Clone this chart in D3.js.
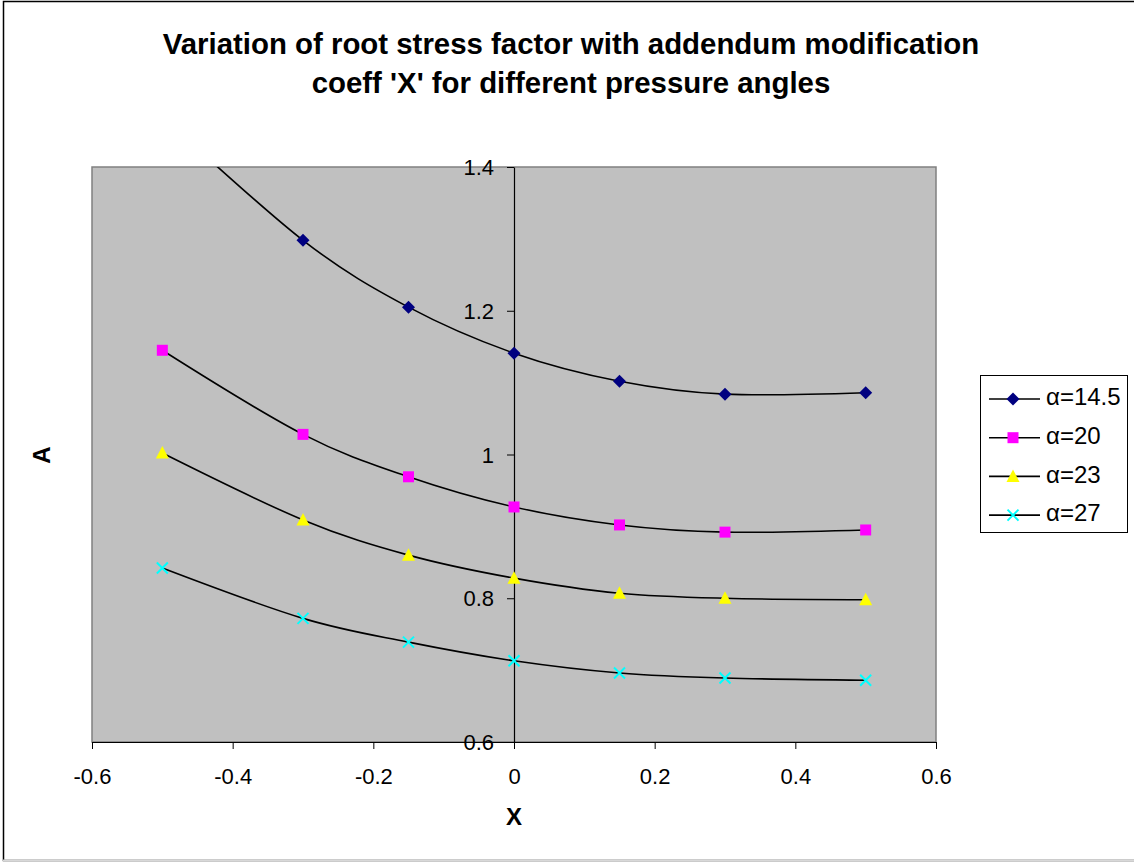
<!DOCTYPE html>
<html>
<head>
<meta charset="utf-8">
<script src="https://cdn.jsdelivr.net/npm/d3@7"></script>
<style>
  html, body { margin: 0; padding: 0; background: #fff; }
  svg { display: block; font-family: Arial, "Liberation Sans", sans-serif; }
</style>
</head>
<body>
<svg id="chart" width="1134" height="862"></svg>
<script>
// Addendum modification coefficient X
const xValues = [-0.5, -0.3, -0.15, 0, 0.15, 0.3, 0.5];

// Root stress factor A for each pressure angle
const a145 = [1.47, 1.298, 1.205, 1.141, 1.102, 1.084, 1.086];
const a20  = [1.145, 1.028, 0.969, 0.927, 0.902, 0.892, 0.895];
const a23  = [1.002, 0.909, 0.860, 0.828, 0.807, 0.800, 0.798];
const a27  = [0.842, 0.772, 0.739, 0.713, 0.696, 0.689, 0.686];

const seriesNames = ["α=14.5", "α=20", "α=23", "α=27"];
const seriesColors = ["#000080", "#FF00FF", "#FFFF00", "#00FFFF"];
const seriesSymbols = ["diamond", "square", "triangle", "cross"];

const xTicks = [-0.6, -0.4, -0.2, 0, 0.2, 0.4, 0.6];
const yTicks = [0.6, 0.8, 1, 1.2, 1.4];

const titleLines = [
  "Variation of root stress factor with addendum modification",
  "coeff 'X' for different pressure angles"
];

const series = [a145, a20, a23, a27].map((vals, i) => ({
  name: seriesNames[i],
  color: seriesColors[i],
  symbol: seriesSymbols[i],
  points: vals.map((v, j) => ({ x: xValues[j], y: v }))
}));

const svg = d3.select("#chart");
const plot = { left: 92, right: 936, top: 167, bottom: 742 };
const fontFamily = "Arial, 'Liberation Sans', sans-serif";

const x = d3.scaleLinear().domain([-0.6, 0.6]).range([plot.left, plot.right]);
const y = d3.scaleLinear().domain([0.6, 1.4]).range([plot.bottom, plot.top]);

// Plain hyphen-minus number labels
const numLabel = d => (d === 0 ? "0" : d === 1 ? "1" : d.toFixed(1));

// Outer chart frame
svg.append("rect")
  .attr("x", 3.5).attr("y", 1.5)
  .attr("width", 1140).attr("height", 859)
  .attr("fill", "#fff").attr("stroke", "#000").attr("stroke-width", 1.5);
svg.append("line")
  .attr("x1", 3).attr("x2", 1134).attr("y1", 860.5).attr("y2", 860.5)
  .attr("stroke", "#d8d8d8").attr("stroke-width", 2);

// Plot area
svg.append("rect")
  .attr("x", plot.left).attr("y", plot.top)
  .attr("width", plot.right - plot.left).attr("height", plot.bottom - plot.top)
  .attr("fill", "#C0C0C0").attr("stroke", "#808080").attr("stroke-width", 1.5);

svg.append("defs").append("clipPath").attr("id", "plotClip")
  .append("rect")
  .attr("x", plot.left).attr("y", plot.top)
  .attr("width", plot.right - plot.left).attr("height", plot.bottom - plot.top);

// Title
svg.append("text")
  .attr("x", 571).attr("y", 46)
  .attr("text-anchor", "middle").attr("dominant-baseline", "middle")
  .attr("font-size", 29.4).attr("font-weight", "bold")
  .selectAll("tspan").data(titleLines).join("tspan")
  .attr("x", 571).attr("dy", (d, i) => i === 0 ? 0 : 39)
  .text(d => d);

// X axis along the bottom of the plot area
const xAxis = svg.append("g")
  .attr("transform", `translate(0,${plot.bottom})`)
  .call(d3.axisBottom(x).tickValues(xTicks).tickSize(7).tickSizeOuter(0)
    .tickFormat(numLabel));
xAxis.select(".domain").attr("stroke", "#000").attr("stroke-width", 1.2);
xAxis.selectAll(".tick line").attr("stroke", "#000");
xAxis.selectAll(".tick text")
  .attr("y", 34).attr("dy", "0.35em")
  .attr("font-size", 22).attr("fill", "#000").attr("font-family", fontFamily);

// Y axis crossing at X = 0
const yAxis = svg.append("g")
  .attr("transform", `translate(${x(0)},0)`)
  .call(d3.axisLeft(y).tickValues(yTicks).tickSize(7).tickSizeOuter(0)
    .tickFormat(numLabel));
yAxis.select(".domain").attr("stroke", "#000").attr("stroke-width", 1.2);
yAxis.selectAll(".tick line").attr("stroke", "#000");
yAxis.selectAll(".tick text")
  .attr("x", -20).attr("dy", "0.35em")
  .attr("font-size", 22).attr("fill", "#000").attr("font-family", fontFamily);

// Axis titles
svg.append("text")
  .attr("x", 514).attr("y", 819)
  .attr("text-anchor", "middle").attr("dominant-baseline", "middle")
  .attr("font-size", 24).attr("font-weight", "bold").text("X");
svg.append("text")
  .attr("transform", "translate(44,455) rotate(-90)")
  .attr("text-anchor", "middle").attr("dominant-baseline", "middle")
  .attr("font-size", 24).attr("font-weight", "bold").text("A");

// Marker drawing
function drawMarker(sel, symbol, color) {
  if (symbol === "diamond") {
    sel.append("path").attr("d", "M0,-6.5L6.5,0L0,6.5L-6.5,0Z").attr("fill", color);
  } else if (symbol === "square") {
    sel.append("rect").attr("x", -5.5).attr("y", -5.5).attr("width", 11).attr("height", 11).attr("fill", color);
  } else if (symbol === "triangle") {
    sel.append("path").attr("d", "M0,-7L6.5,5.5L-6.5,5.5Z").attr("fill", color);
  } else {
    sel.append("path").attr("d", "M-5.5,-5.5L5.5,5.5M5.5,-5.5L-5.5,5.5")
      .attr("stroke", color).attr("stroke-width", 2).attr("fill", "none");
  }
}

// Smoothed series lines and markers
const line = d3.line().x(d => x(d.x)).y(d => y(d.y)).curve(d3.curveCardinal.tension(0));
const layer = svg.append("g").attr("clip-path", "url(#plotClip)");

series.forEach(s => {
  layer.append("path")
    .attr("d", line(s.points))
    .attr("fill", "none").attr("stroke", "#000").attr("stroke-width", 1.6);
});
series.forEach(s => {
  layer.selectAll(null).data(s.points.filter(p => p.y <= 1.4)).join("g")
    .attr("transform", d => `translate(${x(d.x)},${y(d.y)})`)
    .each(function () { drawMarker(d3.select(this), s.symbol, s.color); });
});

// Legend
const legend = svg.append("g");
legend.append("rect")
  .attr("x", 980.5).attr("y", 375.5).attr("width", 147).attr("height", 157)
  .attr("fill", "#fff").attr("stroke", "#000").attr("stroke-width", 1);
series.forEach((s, i) => {
  const cy = 399 + i * 38.7;
  const g = legend.append("g");
  g.append("line").attr("x1", 989).attr("x2", 1040).attr("y1", cy).attr("y2", cy)
    .attr("stroke", "#000").attr("stroke-width", 1.6);
  drawMarker(g.append("g").attr("transform", `translate(1013,${cy})`), s.symbol, s.color);
  g.append("text").attr("x", 1046).attr("y", cy)
    .attr("dominant-baseline", "middle").attr("font-size", 24).text(s.name);
});
</script>
</body>
</html>
